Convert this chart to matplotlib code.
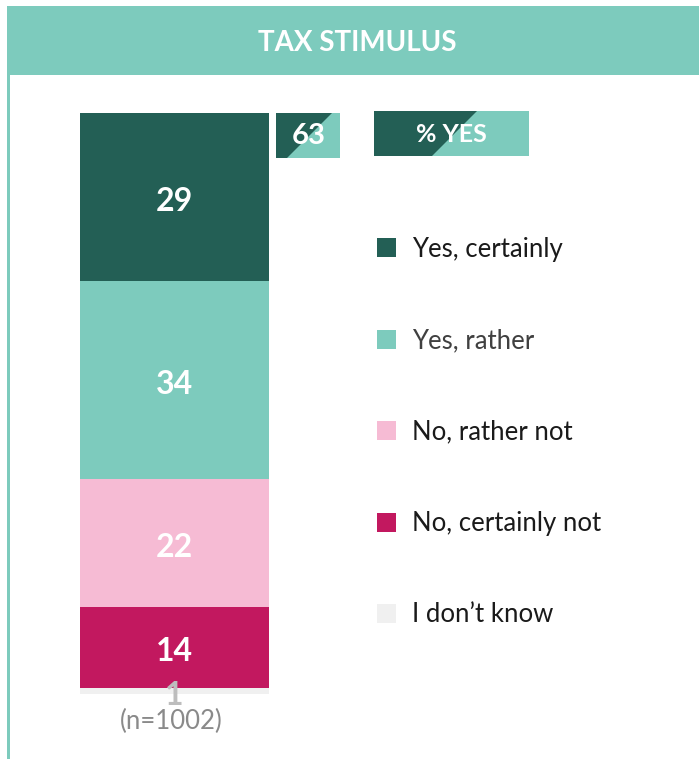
import matplotlib
matplotlib.use("Agg")
import matplotlib.pyplot as plt
from matplotlib.patches import Rectangle, Polygon

plt.rcParams['font.family'] = ['Lato', 'DejaVu Sans']

# survey answers, top to bottom of the stacked bar
answers = ["Yes, certainly", "Yes, rather", "No, rather not", "No, certainly not", "I don\u2019t know"]
shares = [29, 34, 22, 14, 1]
colors = ["#235F55", "#7DCBBD", "#F6BBD4", "#C2185F", "#F0F0F0"]
label_colors = ["white", "white", "white", "white", "#BDBDBD"]
legend_text_colors = ["#1A1A1A", "#404040", "#1A1A1A", "#1A1A1A", "#1A1A1A"]
title = "TAX STIMULUS"
sample_note = "(n=1002)"
yes_total = shares[0] + shares[1]

W, H = 699, 759
fig = plt.figure(figsize=(W / 100, H / 100), dpi=100)

# background layer in pixel coordinates
bg = fig.add_axes([0, 0, 1, 1])
bg.set_xlim(0, W)
bg.set_ylim(H, 0)
bg.axis("off")

teal = "#7DCBBD"
dark = "#235F55"
bg.add_patch(Rectangle((7, 6), W - 7, 69, color=teal, lw=0))
bg.add_patch(Rectangle((7, 6), 3, H - 6, color=teal, lw=0))
bg.text(357, 43, title, color="white", fontsize=20, fontweight="bold",
        ha="center", va="center")

# "63" total badge, split diagonally
bx0, by0, bx1, by1 = 276, 113, 340, 158
bg.add_patch(Rectangle((bx0, by0), bx1 - bx0, by1 - by0, color=teal, lw=0))
bg.add_patch(Polygon([(bx0, by0), (332, by0), (287, by1), (bx0, by1)], color=dark, lw=0))
bg.text((bx0 + bx1) / 2 + 1, (by0 + by1) / 2 + 1, str(yes_total), color="white",
        fontsize=21, fontweight="bold", ha="center", va="center")

# "% YES" header badge
kx0, ky0, kx1, ky1 = 374, 111, 529, 156
bg.add_patch(Rectangle((kx0, ky0), kx1 - kx0, ky1 - ky0, color=teal, lw=0))
bg.add_patch(Polygon([(kx0, ky0), (477, ky0), (432, ky1), (kx0, ky1)], color=dark, lw=0))
bg.text((kx0 + kx1) / 2, (ky0 + ky1) / 2 + 1, "% YES", color="white",
        fontsize=18, fontweight="bold", ha="center", va="center")

# legend
for i, (name, c, tc) in enumerate(zip(answers, colors, legend_text_colors)):
    y = 247 + i * 91.5
    bg.add_patch(Rectangle((377, y - 9), 19, 19, color=c, lw=0))
    bg.text(412, y + 2, name, color=tc, fontsize=18.5, ha="left", va="center")

# stacked bar
ax = fig.add_axes([80 / W, (H - 694) / H, 189 / W, 581 / H])
ax.set_xlim(0, 1)
ax.set_ylim(sum(shares), 0)
ax.axis("off")
bottom = 0
for v, c, lc in zip(shares, colors, label_colors):
    ax.bar(0.5, v, width=1, bottom=bottom, color=c, lw=0)
    ax.annotate(str(v), (0.5, bottom + v / 2), xytext=(0, -3), textcoords="offset points",
                color=lc, fontsize=23, fontweight="bold", ha="center", va="center")
    bottom += v

bg.text(171, 721, sample_note, color="#8A8A8A", fontsize=18.5, ha="center", va="center")

fig.savefig("out.png", dpi=100)
